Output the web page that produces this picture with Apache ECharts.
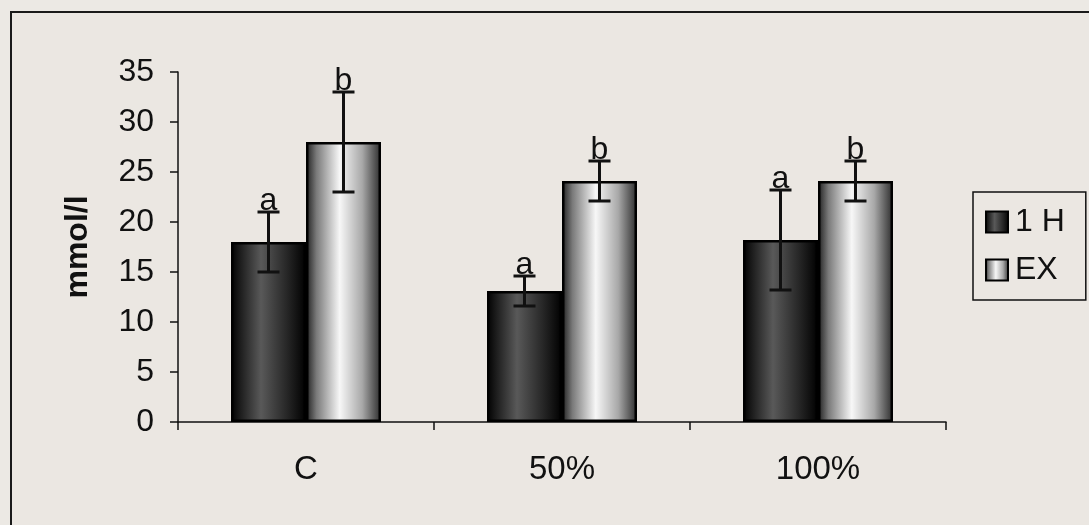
<!DOCTYPE html>
<html>
<head>
<meta charset="utf-8">
<script src="https://cdn.jsdelivr.net/npm/echarts@6/dist/echarts.min.js"></script>
<style>
html,body{margin:0;padding:0;background:#ece9e4;}
#chart{width:1089px;height:525px;}
</style>
</head>
<body>
<div id="chart"></div>
<script>
// ---- data ----
var categories = ['C', '50%', '100%'];
var seriesNames = ['1 H', 'EX'];
var valuesH = [18, 13.1, 18.2];
var valuesEX = [28, 24.1, 24.1];
var errH = [3, 1.5, 5];
var errEX = [5, 2, 2];
var lettersH = ['a', 'a', 'a'];
var lettersEX = ['b', 'b', 'b'];
var yTicks = { min: 0, max: 35, interval: 5 };
var yName = 'mmol/l';

// ---- styles ----
var FONT = 'Liberation Sans, Arial, sans-serif';
var FS = 32;
var BAR_W = 75;
var darkGrad = new echarts.graphic.LinearGradient(0, 0, 1, 0, [
  {offset: 0, color: '#000000'},
  {offset: 0.12, color: '#1c1c1c'},
  {offset: 0.4, color: '#595959'},
  {offset: 0.75, color: '#262626'},
  {offset: 1, color: '#000000'}
]);
var lightGrad = new echarts.graphic.LinearGradient(0, 0, 1, 0, [
  {offset: 0, color: '#1e1e1e'},
  {offset: 0.14, color: '#7a7a7a'},
  {offset: 0.45, color: '#f7f7f7'},
  {offset: 0.75, color: '#a8a8a8'},
  {offset: 1, color: '#2c2c2c'}
]);

function errData(vals, errs, letters) {
  return vals.map(function (v, i) { return [i, v - errs[i], v + errs[i], letters[i]]; });
}

function makeErrRender(offsetSign) {
  return function (params, api) {
    var idx = api.value(0);
    var xc = api.coord([idx, 0])[0] + offsetSign * BAR_W / 2;
    var lo = api.coord([idx, api.value(1)])[1];
    var hi = api.coord([idx, api.value(2)])[1];
    var cap = 11;
    var st = {stroke: '#111', lineWidth: 3};
    return {
      type: 'group',
      children: [
        {type: 'line', shape: {x1: xc, y1: lo, x2: xc, y2: hi}, style: st},
        {type: 'line', shape: {x1: xc - cap, y1: lo, x2: xc + cap, y2: lo}, style: st},
        {type: 'line', shape: {x1: xc - cap, y1: hi, x2: xc + cap, y2: hi}, style: st},
        {type: 'text', style: {
          text: api.value(3), x: xc, y: hi + 5, align: 'center', verticalAlign: 'bottom',
          font: FS + 'px ' + FONT, fill: '#111'
        }}
      ]
    };
  };
}

var chart = echarts.init(document.getElementById('chart'), null, {renderer: 'canvas'});
chart.setOption({
  backgroundColor: '#ece9e4',
  animation: false,
  graphic: [{
    type: 'rect', left: 10, top: 11, z: -1,
    shape: {width: 1200, height: 700},
    style: {fill: '#ebe7e2', stroke: '#1a1a1a', lineWidth: 2}
  }],
  grid: {left: 178, right: 143, top: 72, bottom: 103},
  legend: {
    data: seriesNames,
    orient: 'vertical',
    left: 973, top: 192,
    icon: 'rect',
    itemWidth: 22, itemHeight: 21, itemGap: 16,
    padding: [14, 21, 14, 12],
    borderColor: '#111', borderWidth: 1.5,
    backgroundColor: '#ebe7e2',
    textStyle: {fontFamily: FONT, fontSize: FS, color: '#111', padding: [0, 0, 0, 2]},
    itemStyle: {borderColor: '#000', borderWidth: 2}
  },
  xAxis: {
    type: 'category',
    data: categories,
    axisLine: {lineStyle: {color: '#111', width: 1.5}},
    axisTick: {show: true, length: 8, lineStyle: {color: '#111', width: 1.5}},
    axisLabel: {fontFamily: FONT, fontSize: 33, color: '#111', margin: 31}
  },
  yAxis: {
    type: 'value',
    min: yTicks.min, max: yTicks.max, interval: yTicks.interval,
    name: yName,
    nameLocation: 'middle',
    nameGap: 84,
    nameTextStyle: {fontFamily: FONT, fontSize: FS, fontWeight: 'bold', color: '#111'},
    axisLine: {show: true, lineStyle: {color: '#111', width: 1.5}},
    axisTick: {show: true, length: 8, lineStyle: {color: '#111', width: 1.5}},
    splitLine: {show: false},
    axisLabel: {fontFamily: FONT, fontSize: FS, color: '#111', margin: 24}
  },
  series: [
    {
      name: seriesNames[0], type: 'bar', data: valuesH, barWidth: BAR_W, barGap: '0%',
      itemStyle: {color: darkGrad, borderColor: '#000', borderWidth: 2.5}
    },
    {
      name: seriesNames[1], type: 'bar', data: valuesEX, barWidth: BAR_W, barGap: '0%',
      itemStyle: {color: lightGrad, borderColor: '#000', borderWidth: 2.5}
    },
    {
      name: 'errH', type: 'custom', z: 10, renderItem: makeErrRender(-1),
      data: errData(valuesH, errH, lettersH), encode: {x: 0, y: [1, 2]}
    },
    {
      name: 'errEX', type: 'custom', z: 10, renderItem: makeErrRender(1),
      data: errData(valuesEX, errEX, lettersEX), encode: {x: 0, y: [1, 2]}
    }
  ]
});
</script>
</body>
</html>
